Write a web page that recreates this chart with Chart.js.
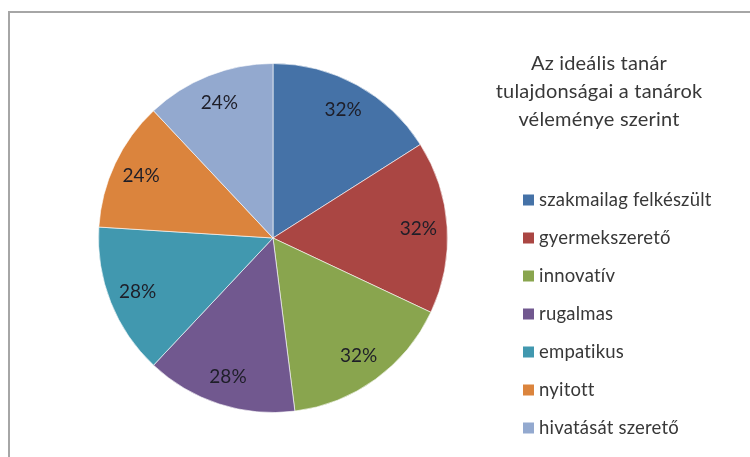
<!DOCTYPE html>
<html>
<head>
<meta charset="utf-8">
<script src="https://cdn.jsdelivr.net/npm/chart.js@4"></script>
<style>
html,body{margin:0;padding:0;background:#fff;}
#wrap{position:relative;width:750px;height:457px;overflow:hidden;}
#frame{position:absolute;left:8px;top:11px;width:760px;height:460px;border-left:2px solid #a6a6a6;border-top:2px solid #a6a6a6;box-sizing:border-box;}
canvas{position:absolute;left:0;top:0;}
</style>
</head>
<body>
<div id="wrap">
<div id="frame"></div>
<canvas id="c" width="750" height="457"></canvas>
</div>
<script>
const categories = ["szakmailag felkészült","gyermekszerető","innovatív","rugalmas","empatikus","nyitott","hivatását szerető"];
const values = [32,32,32,28,28,24,24];
const labels = ["32%","32%","32%","28%","28%","24%","24%"];
const colors = ["#4572A7","#AA4643","#89A54E","#71588F","#4198AF","#DB843D","#93A9CF"];
const titleLines = ["Az ideális tanár","tulajdonságai a tanárok","véleménye szerint"];

const FONT = "Lato, 'Open Sans', sans-serif";

function noLig(ctx){ if ('letterSpacing' in ctx) ctx.letterSpacing = '0.2px'; }

const overlay = {
  id:'overlay',
  afterDatasetsDraw(chart){
    const ctx = chart.ctx;
    const meta = chart.getDatasetMeta(0);
    ctx.save();
    ctx.font = "19px " + FONT;
    ctx.fillStyle = "#1e1e28";
    ctx.textAlign = "center";
    ctx.textBaseline = "middle";
    meta.data.forEach((arc,i)=>{
      const p = arc.getProps(['x','y','startAngle','endAngle','outerRadius'],true);
      const a = (p.startAngle+p.endAngle)/2;
      const r = p.outerRadius*0.835;
      ctx.fillText(labels[i], p.x+Math.cos(a)*r, p.y+Math.sin(a)*r);
    });
    ctx.restore();
  },
  afterDraw(chart){
    const ctx = chart.ctx;
    ctx.save();
    noLig(ctx);
    ctx.fillStyle = "#383838";
    ctx.textAlign = "center";
    ctx.textBaseline = "middle";
    ctx.font = "20px " + FONT;
    titleLines.forEach((t,i)=>ctx.fillText(t, 599, 64 + i*28));
    ctx.textAlign = "left";
    ctx.font = "18.5px " + FONT;
    categories.forEach((c,i)=>{
      const y = 200 + i*38;
      ctx.fillStyle = colors[i];
      ctx.fillRect(523, y-5.5, 11, 11);
      ctx.fillStyle = "#383838";
      ctx.fillText(c, 539, y);
    });
    ctx.restore();
  }
};

new Chart(document.getElementById('c'), {
  type:'pie',
  data:{
    labels:categories,
    datasets:[{data:values, backgroundColor:colors, borderColor:'rgba(255,255,255,0.6)', borderWidth:1}]
  },
  options:{
    responsive:false,
    animation:false,
    layout:{padding:{left:98,right:302,top:63,bottom:44}},
    plugins:{legend:{display:false},tooltip:{enabled:false},title:{display:false}}
  },
  plugins:[overlay]
});
</script>
</body>
</html>
